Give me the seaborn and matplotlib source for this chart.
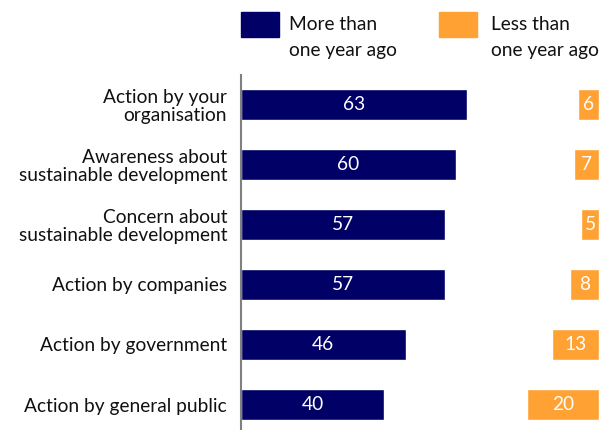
import matplotlib
matplotlib.use("Agg")
import matplotlib.pyplot as plt
import matplotlib.patches as mpatches
import seaborn as sns
import pandas as pd

categories = [
    "Action by your\norganisation",
    "Awareness about\nsustainable development",
    "Concern about\nsustainable development",
    "Action by companies",
    "Action by government",
    "Action by general public",
]
more_than_year = [63, 60, 57, 57, 46, 40]
less_than_year = [6, 7, 5, 8, 13, 20]
legend_labels = ["More than\none year ago", "Less than\none year ago"]

NAVY = "#000066"
ORANGE = "#FFA133"

sns.set_theme(style="white")
plt.rcParams["font.family"] = ["Lato", "DejaVu Sans"]
FS = 13.8

df = pd.DataFrame({"cat": categories, "more": more_than_year, "less": less_than_year})

fig = plt.figure(figsize=(6.14, 4.30), dpi=100)
W, H = 614, 430
x0, x1 = 241, 599
y_top, y_bot = 74.5, 434.5
ax = fig.add_axes([x0 / W, 1 - y_bot / H, (x1 - x0) / W, (y_bot - y_top) / H])

sns.barplot(data=df, y="cat", x="more", color=NAVY, width=0.52,
            saturation=1, ax=ax, orient="h")
ax.set_xlim(0, 100)
ax.set_ylim(len(categories) - 0.5, -0.5)

# Second series grows leftward from the right edge
ax2 = ax.twiny()
sns.barplot(data=df, y="cat", x="less", color=ORANGE, width=0.52,
            saturation=1, ax=ax2, orient="h")
ax2.set_xlim(100, 0)
ax2.set_ylim(len(categories) - 0.5, -0.5)

for a in (ax, ax2):
    for s in ("top", "right", "bottom"):
        a.spines[s].set_visible(False)
    a.set_xticks([])
    a.set_xlabel("")
    a.set_ylabel("")
ax2.spines["left"].set_visible(False)
ax2.tick_params(left=False, labelleft=False)
ax.spines["left"].set_color("#808080")
ax.spines["left"].set_linewidth(1.5)
ax.tick_params(axis="y", length=0, pad=10, labelsize=FS, labelcolor="#111111")
for lbl in ax.get_yticklabels():
    lbl.set_linespacing(1.08)

for c in ax.containers:
    ax.bar_label(c, label_type="center", color="white", fontsize=FS)
for c in ax2.containers:
    ax2.bar_label(c, label_type="center", color="white", fontsize=FS)

# Legend
fig.patches.append(mpatches.Rectangle((241 / W, 1 - 37 / H), 38 / W, 25 / H,
                                      transform=fig.transFigure, color=NAVY))
fig.patches.append(mpatches.Rectangle((439 / W, 1 - 37 / H), 38 / W, 25 / H,
                                      transform=fig.transFigure, color=ORANGE))
fig.text(289 / W, 1 - 37.5 / H, legend_labels[0], fontsize=FS, va="center",
         ha="left", linespacing=1.68, color="#111111")
fig.text(491 / W, 1 - 37.5 / H, legend_labels[1], fontsize=FS, va="center",
         ha="left", linespacing=1.68, color="#111111")

fig.savefig("out.png", dpi=100)
